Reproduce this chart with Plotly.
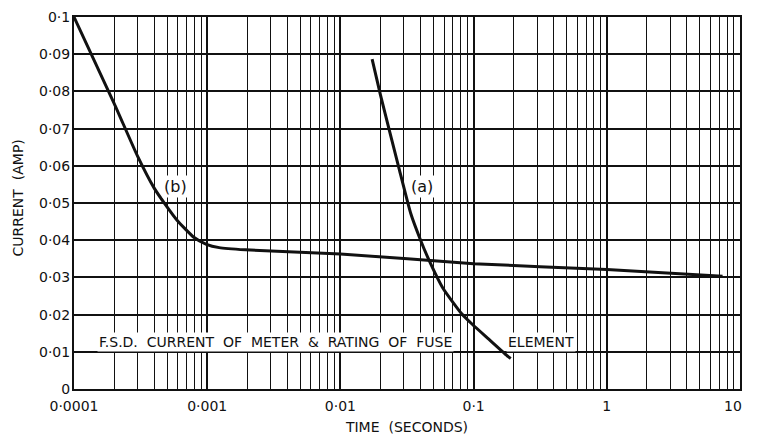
import plotly.graph_objects as go

# curve (b): meter movement
b_time = [0.0001, 0.0002, 0.0003, 0.0004, 0.000487, 0.000596, 0.000793,
          0.000987, 0.00123, 0.00194, 0.01, 0.1, 1, 7.4]
b_current = [0.1, 0.0768, 0.0626, 0.0540, 0.0495, 0.0453, 0.0408,
             0.0389, 0.0380, 0.0374, 0.0363, 0.0337, 0.0321, 0.0303]

# curve (a): fuse element
a_time = [0.0173, 0.02, 0.0276, 0.0338, 0.040, 0.0458, 0.0589, 0.0811,
          0.0977, 0.13, 0.182, 0.19]
a_current = [0.0887, 0.079, 0.0592, 0.0471, 0.040, 0.035, 0.0271, 0.0203,
             0.0174, 0.0134, 0.0087, 0.0082]

fsd_time = [0.0001, 10]
fsd_current = [0.01, 0.01]

x_ticks = [0.0001, 0.001, 0.01, 0.1, 1, 10]
x_labels = ['0·0001', '0·001', '0·01', '0·1', '1', '10\u2002\u2002']
y_ticks = [0, 0.01, 0.02, 0.03, 0.04, 0.05, 0.06, 0.07, 0.08, 0.09, 0.1]
y_labels = ['0', '0·01', '0·02', '0·03', '0·04', '0·05', '0·06', '0·07',
            '0·08', '0·09', '0·1']
x_minor = [m * d for d in [0.0001, 0.001, 0.01, 0.1, 1] for m in range(2, 10)]

ink = '#111111'
font = 'DejaVu Sans'

fig = go.Figure()
fig.add_trace(go.Scatter(x=fsd_time, y=fsd_current, mode='lines',
                         line=dict(color=ink, width=1.8, dash='13px,7px'),
                         hoverinfo='skip'))
fig.add_trace(go.Scatter(x=b_time, y=b_current, mode='lines',
                         line=dict(color=ink, width=3, shape='spline', smoothing=0.5)))
fig.add_trace(go.Scatter(x=a_time, y=a_current, mode='lines',
                         line=dict(color=ink, width=3, shape='spline', smoothing=0.5)))

# annotation x positions are log10(time) on the log axis
label_font = dict(family=font, size=14, color=ink)
fig.add_annotation(x=-2.49, y=0.0127, text='F.S.D.  CURRENT  OF  METER  &  RATING  OF  FUSE',
                   showarrow=False, font=label_font, bgcolor='white', borderpad=1)
fig.add_annotation(x=-0.497, y=0.0127, text='ELEMENT', showarrow=False,
                   font=label_font, bgcolor='white', borderpad=1)
fig.add_annotation(x=-3.24, y=0.0545, text='(b)', showarrow=False,
                   font=dict(family=font, size=16, color=ink), bgcolor='white', borderpad=1)
fig.add_annotation(x=-1.39, y=0.0545, text='(a)', showarrow=False,
                   font=dict(family=font, size=16, color=ink), bgcolor='white', borderpad=1)
fig.add_annotation(x=-0.0836, y=0.513, xref='paper', yref='paper', textangle=-90,
                   xanchor='center', yanchor='middle',
                   text='CURRENT  (AMP)', showarrow=False,
                   font=dict(family=font, size=14, color=ink))

# the page body adds 8px around the figure, so keep the page at 765x443
fig.update_layout(
    width=749, height=427,
    margin=dict(l=66, r=1, t=7, b=40),
    paper_bgcolor='white', plot_bgcolor='white',
    showlegend=False,
    font=dict(family=font, size=14, color=ink),
    xaxis=dict(type='log', range=[-4, 1], tickvals=x_ticks, ticktext=x_labels,
               showgrid=True, gridcolor=ink, gridwidth=1.6,
               minor=dict(tickvals=x_minor, showgrid=True, gridcolor=ink, gridwidth=1.3),
               showline=True, linecolor=ink, linewidth=2, mirror=True,
               ticks='', zeroline=False, ticklabeloverflow='allow',
               ticklabelstandoff=3,
               title=dict(text='TIME  (SECONDS)', font=dict(family=font, size=14, color=ink),
                          standoff=10)),
    yaxis=dict(range=[0, 0.1], tickvals=y_ticks, ticktext=y_labels,
               showgrid=True, gridcolor=ink, gridwidth=1.5,
               showline=True, linecolor=ink, linewidth=2, mirror=True,
               ticks='', zeroline=False, ticklabelstandoff=-1,
               ticklabeloverflow='allow'),
)

fig.write_html("out.html")
